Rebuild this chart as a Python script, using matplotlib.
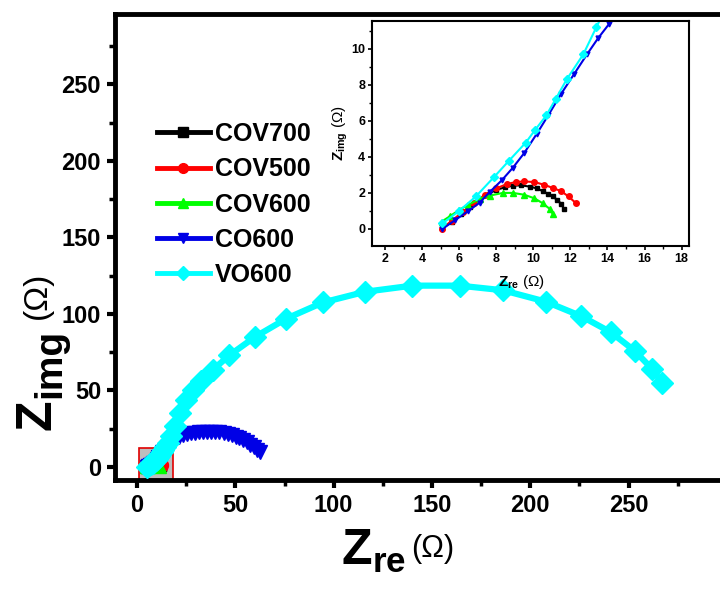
import matplotlib
matplotlib.use('Agg')

import matplotlib.pyplot as plt
from matplotlib.lines import Line2D
from matplotlib.patches import Rectangle
from matplotlib.ticker import MultipleLocator

plt.rcParams['font.family'] = ['Liberation Sans', 'DejaVu Sans']
plt.rcParams['mathtext.fontset'] = 'custom'
plt.rcParams['mathtext.bf'] = 'Liberation Sans:bold'
plt.rcParams['mathtext.rm'] = 'Liberation Sans'

# Nyquist data (Z_re, Z_img in Ohm)
cov700_x = [5.1, 5.6, 6.1, 6.6, 7.1, 7.6, 8.0, 8.45, 8.9, 9.35, 9.8, 10.2, 10.5, 10.8, 11.05, 11.3, 11.5, 11.66]
cov700_y = [0.05, 0.4, 0.8, 1.2, 1.6, 1.95, 2.17, 2.3, 2.4, 2.42, 2.35, 2.25, 2.1, 1.95, 1.8, 1.6, 1.4, 1.1]

cov500_x = [5.05, 5.6, 6.2, 6.8, 7.4, 8.0, 8.6, 9.05, 9.5, 10.06, 10.6, 11.06, 11.5, 11.9, 12.3]
cov500_y = [0.0, 0.45, 0.95, 1.45, 1.9, 2.25, 2.5, 2.6, 2.64, 2.6, 2.45, 2.27, 2.1, 1.8, 1.43]

cov600_x = [5.05, 5.5, 6.0, 6.5, 7.1, 7.65, 8.37, 8.9, 9.5, 10.06, 10.5, 10.9, 11.06]
cov600_y = [0.4, 0.7, 1.05, 1.35, 1.65, 1.85, 2.0, 2.0, 1.9, 1.7, 1.43, 1.1, 0.8]

co600_x = [5.1, 5.8, 6.5, 7.1, 7.65, 8.3, 8.9, 9.5, 10.2, 10.8, 11.5, 12.2, 12.9, 13.5, 14.1,
           15.0, 16.3, 17.8, 19.5, 21.3, 23.2, 25.2, 27.2, 29.3, 31.4, 33.5, 35.6, 37.7, 39.8,
           41.9, 44.0, 46.1, 48.1, 50.1, 52.1, 54.0, 55.9, 57.7, 59.5, 61.2, 62.6]
co600_y = [0.0, 0.5, 1.0, 1.45, 2.05, 2.7, 3.4, 4.2, 5.3, 6.3, 7.5, 8.6, 9.7, 10.6, 11.4,
           12.9, 14.9, 16.8, 18.4, 19.7, 20.7, 21.5, 22.1, 22.5, 22.8, 23.0, 23.1, 23.1, 22.9,
           22.6, 22.1, 21.5, 20.7, 19.8, 18.7, 17.5, 16.1, 14.6, 13.0, 11.3, 10.0]

vo600_x = [5.1, 6.0, 6.9, 7.9, 8.7, 9.6, 10.1, 10.7, 11.2, 11.8, 12.7, 13.4, 14.4, 15.6, 17.2,
           19.3, 21.9, 25.0, 28.5, 32.5, 38.5, 47.0, 60.0, 76.0, 94.5, 116.0, 140.0, 164.0,
           186.0, 208.0, 226.0, 241.0, 253.0, 262.0, 267.0]
vo600_y = [0.3, 1.0, 1.8, 2.9, 3.8, 4.8, 5.5, 6.3, 7.2, 8.3, 9.7, 11.2, 13.3, 16.0, 20.5,
           27.0, 35.5, 44.0, 50.5, 56.0, 63.5, 73.0, 85.0, 97.0, 107.5, 114.5, 118.5, 118.5,
           115.5, 108.0, 98.5, 88.0, 76.0, 64.0, 55.0]

labels = ['COV700', 'COV500', 'COV600', 'CO600', 'VO600']
colors = ['black', '#ff0000', '#00ff00', '#0000e6', '#00ffff']
markers = ['s', 'o', '^', 'v', 'D']
series = [(cov700_x, cov700_y), (cov500_x, cov500_y), (cov600_x, cov600_y),
          (co600_x, co600_y), (vo600_x, vo600_y)]

W, H = 720, 594
fig = plt.figure(figsize=(W / 100, H / 100), dpi=100)

# main axes runs past the right edge of the picture (cropped original)
ax = fig.add_axes([115 / W, 1 - 480 / H, 610 / W, 466 / H])
ax.set_xlim(-11.2, 299)
ax.set_ylim(-8.5, 296)

# zoom box around the origin
ax.add_patch(Rectangle((1, -8.5), 17.3, 21, facecolor='#bdbdbd', edgecolor='#e00000',
                       linewidth=1.2, zorder=1))

main_ms = [9, 10, 10, 10, 11]
main_lw = [3.5, 3.5, 3.5, 4, 4.5]
for (x, y), c, m, ms, lw in zip(series, colors, markers, main_ms, main_lw):
    ax.plot(x, y, color=c, marker=m, markersize=ms, linewidth=lw, zorder=3)

for side in ['left', 'bottom', 'top', 'right']:
    ax.spines[side].set_linewidth(3.5)
ax.xaxis.set_major_locator(MultipleLocator(50))
ax.xaxis.set_minor_locator(MultipleLocator(25))
ax.yaxis.set_major_locator(MultipleLocator(50))
ax.yaxis.set_minor_locator(MultipleLocator(25))
ax.tick_params(which='major', direction='out', length=6, width=3, labelsize=17, pad=4)
ax.tick_params(which='minor', direction='out', length=4, width=2.5)
for lab in ax.get_xticklabels() + ax.get_yticklabels():
    lab.set_fontweight('bold')

# x title: big bold Z with subscript, smaller (Ω)
tx = fig.text(341 / W, 1 - 565 / H, r'$\mathbf{Z}_{\mathbf{re}}$', fontsize=36,
              ha='left', va='baseline')
ax.annotate('(Ω)', xy=(1, 1), xycoords=tx, xytext=(4, -4), textcoords='offset points',
            fontsize=22, ha='left', va='top')

# y title built from pieces so the subscript can be larger
tz = fig.text(50 / W, 1 - 430 / H, 'Z', fontsize=36, fontweight='bold',
              rotation=90, rotation_mode='anchor', ha='left', va='baseline')
fig.canvas.draw()
rend = fig.canvas.get_renderer()
bz = tz.get_window_extent(rend)
ti = fig.text(60 / W, (bz.y1 + 1) / H, 'img', fontsize=28, fontweight='bold',
              rotation=90, rotation_mode='anchor', ha='left', va='baseline')
bi = ti.get_window_extent(rend)
fig.text(46 / W, (bi.y1 + 10) / H, '(Ω)', fontsize=24,
         rotation=90, rotation_mode='anchor', ha='left', va='baseline')

handles = [Line2D([], [], color=c, marker=m, markersize=7, linewidth=3.5)
           for c, m in zip(colors, markers)]
leg = ax.legend(handles, labels, loc='upper left', bbox_to_anchor=(157 / W, 1 - 122 / H),
                bbox_transform=fig.transFigure, frameon=False, borderpad=0,
                borderaxespad=0, handlelength=2.1, handletextpad=0.2, labelspacing=0.45,
                prop={'size': 18, 'weight': 'bold'})

# inset with the high-frequency region
ins = fig.add_axes([372 / W, 1 - 246 / H, 317 / W, 225 / H])
ins.set_xlim(1.3, 18.4)
ins.set_ylim(-0.95, 11.55)
ins_ms = [3.5, 4, 4, 3.5, 4.5]
for (x, y), c, m, ms in zip(series, colors, markers, ins_ms):
    ins.plot(x, y, color=c, marker=m, markersize=ms, linewidth=1.5)
for side in ['left', 'bottom', 'top', 'right']:
    ins.spines[side].set_linewidth(1.5)
ins.xaxis.set_major_locator(MultipleLocator(2))
ins.xaxis.set_minor_locator(MultipleLocator(1))
ins.yaxis.set_major_locator(MultipleLocator(2))
ins.yaxis.set_minor_locator(MultipleLocator(1))
ins.tick_params(which='major', direction='out', length=3, width=1.2, labelsize=9, pad=2)
ins.tick_params(which='minor', direction='out', length=2, width=1)
for lab in ins.get_xticklabels() + ins.get_yticklabels():
    lab.set_fontweight('bold')
ins.set_xlabel(r'$\mathbf{Z}_{\mathbf{re}}$ (Ω)', fontsize=11, labelpad=1)
ins.set_ylabel(r'$\mathbf{Z}_{\mathbf{img}}$ (Ω)', fontsize=11, labelpad=1)
ins.xaxis.set_label_coords(0.47, -0.12)

fig.savefig('out.png', dpi=100)
